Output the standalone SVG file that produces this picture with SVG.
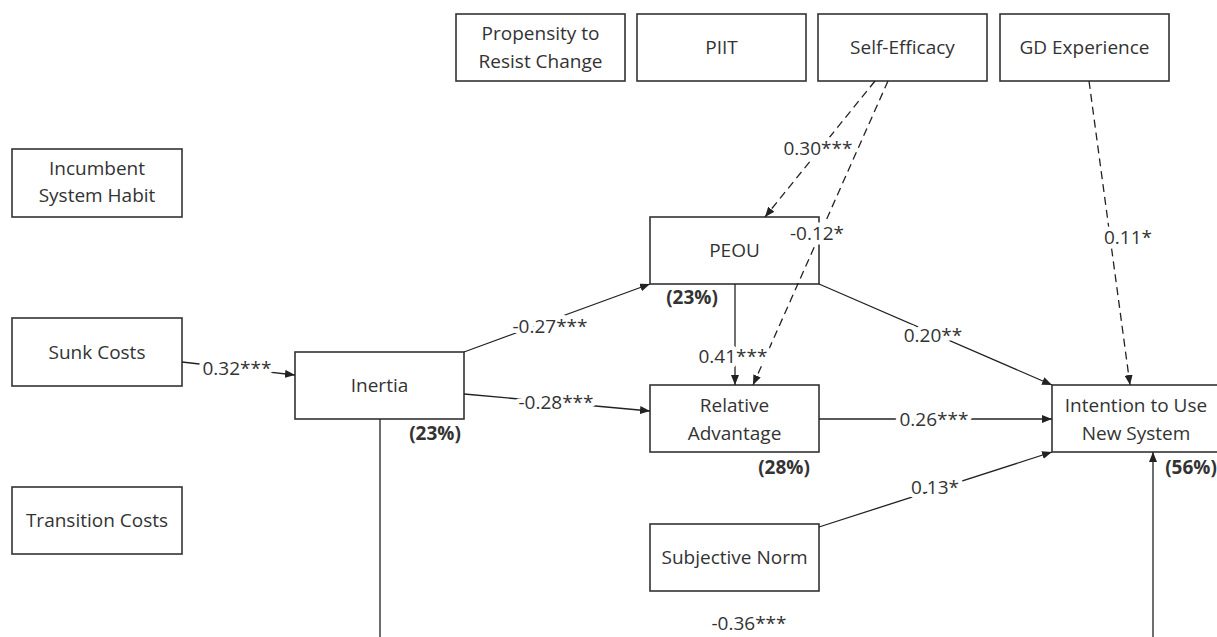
<svg xmlns="http://www.w3.org/2000/svg" width="1217" height="637" viewBox="0 0 1217 637">
<style>
.box{fill:#fff;stroke:#333;stroke-width:1.6}
.t{font-family:"Open Sans","Liberation Sans",sans-serif;font-size:19px;fill:#333;text-anchor:middle}
.p{font-family:"Open Sans","Liberation Sans",sans-serif;font-size:19px;font-weight:bold;fill:#333;text-anchor:middle}
.lbl{font-family:"Open Sans","Liberation Sans",sans-serif;font-size:19px;fill:#333;text-anchor:middle;stroke:#fff;stroke-width:9;stroke-linejoin:round;paint-order:stroke}
.c{fill:none;stroke:#222;stroke-width:1.3;marker-end:url(#ah)}
.d{fill:none;stroke:#222;stroke-width:1.3;stroke-dasharray:8 5;marker-end:url(#ah)}
</style>
<defs>
<marker id="ah" markerUnits="userSpaceOnUse" markerWidth="10" markerHeight="8" refX="10" refY="4" orient="auto">
<path d="M0,0 L10,4 L0,8 z" fill="#222"/>
</marker>
</defs>
<rect width="1217" height="637" fill="#fff"/>

<g id="n-propensity"><rect class="box" x="456" y="14" width="169" height="67"/><text class="t" x="540.5" y="40">Propensity to</text><text class="t" x="540.5" y="68">Resist Change</text></g>
<g id="n-piit"><rect class="box" x="637" y="14" width="169" height="67"/><text class="t" x="721.5" y="54">PIIT</text></g>
<g id="n-selfefficacy"><rect class="box" x="818" y="14" width="169" height="67"/><text class="t" x="902.5" y="54">Self-Efficacy</text></g>
<g id="n-gd"><rect class="box" x="1000" y="14" width="169" height="67"/><text class="t" x="1084.5" y="54">GD Experience</text></g>
<g id="n-habit"><rect class="box" x="12" y="149" width="170" height="68"/><text class="t" x="97" y="175">Incumbent</text><text class="t" x="97" y="202">System Habit</text></g>
<g id="n-sunk"><rect class="box" x="12" y="318" width="170" height="68"/><text class="t" x="97" y="359">Sunk Costs</text></g>
<g id="n-transition"><rect class="box" x="12" y="487" width="170" height="67"/><text class="t" x="97" y="527">Transition Costs</text></g>
<g id="n-inertia"><rect class="box" x="295" y="352" width="169" height="67"/><text class="t" x="379.5" y="392">Inertia</text><text class="p" x="435" y="440">(23%)</text></g>
<g id="n-peou"><rect class="box" x="650" y="217" width="169" height="67"/><text class="t" x="734.5" y="257">PEOU</text><text class="p" x="692" y="304">(23%)</text></g>
<g id="n-ra"><rect class="box" x="650" y="385" width="169" height="67"/><text class="t" x="734.5" y="412">Relative</text><text class="t" x="734.5" y="440">Advantage</text><text class="p" x="784" y="474">(28%)</text></g>
<g id="n-intention"><rect class="box" x="1052" y="385" width="169" height="67"/><text class="t" x="1136" y="412">Intention to Use</text><text class="t" x="1136" y="440">New System</text><text class="p" x="1191" y="474">(56%)</text></g>
<g id="n-sn"><rect class="box" x="650" y="524" width="169" height="67"/><text class="t" x="734.5" y="564">Subjective Norm</text></g>

<g id="connectors">
<path class="c" d="M182,362 L295,375"/>
<path class="c" d="M464,352 L650,284"/>
<path class="c" d="M464,394 L650,411"/>
<path class="c" d="M735,284 L735,385"/>
<path class="d" d="M875,81 L765,217"/>
<path class="d" d="M888,81 L753,385"/>
<path class="d" d="M1089,81 L1130,385"/>
<path class="c" d="M819,284 L1052,385"/>
<path class="c" d="M819,419 L1052,419"/>
<path class="c" d="M819,527 L1052,452"/>
<path class="c" d="M380,419 L380,660 L1153,660 L1153,452"/>
</g>

<g id="labels">
<text class="lbl" x="237" y="375">0.32***</text>
<text class="lbl" x="550" y="333">-0.27***</text>
<text class="lbl" x="556" y="409">-0.28***</text>
<text class="lbl" x="733" y="363">0.41***</text>
<text class="lbl" x="818" y="155">0.30***</text>
<text class="lbl" x="817" y="240">-0.12*</text>
<text class="lbl" x="1128" y="244">0.11*</text>
<text class="lbl" x="933" y="342">0.20**</text>
<text class="lbl" x="934" y="426">0.26***</text>
<text class="lbl" x="935" y="494">0.13*</text>
<text class="lbl" x="749" y="630">-0.36***</text>
</g>
</svg>
